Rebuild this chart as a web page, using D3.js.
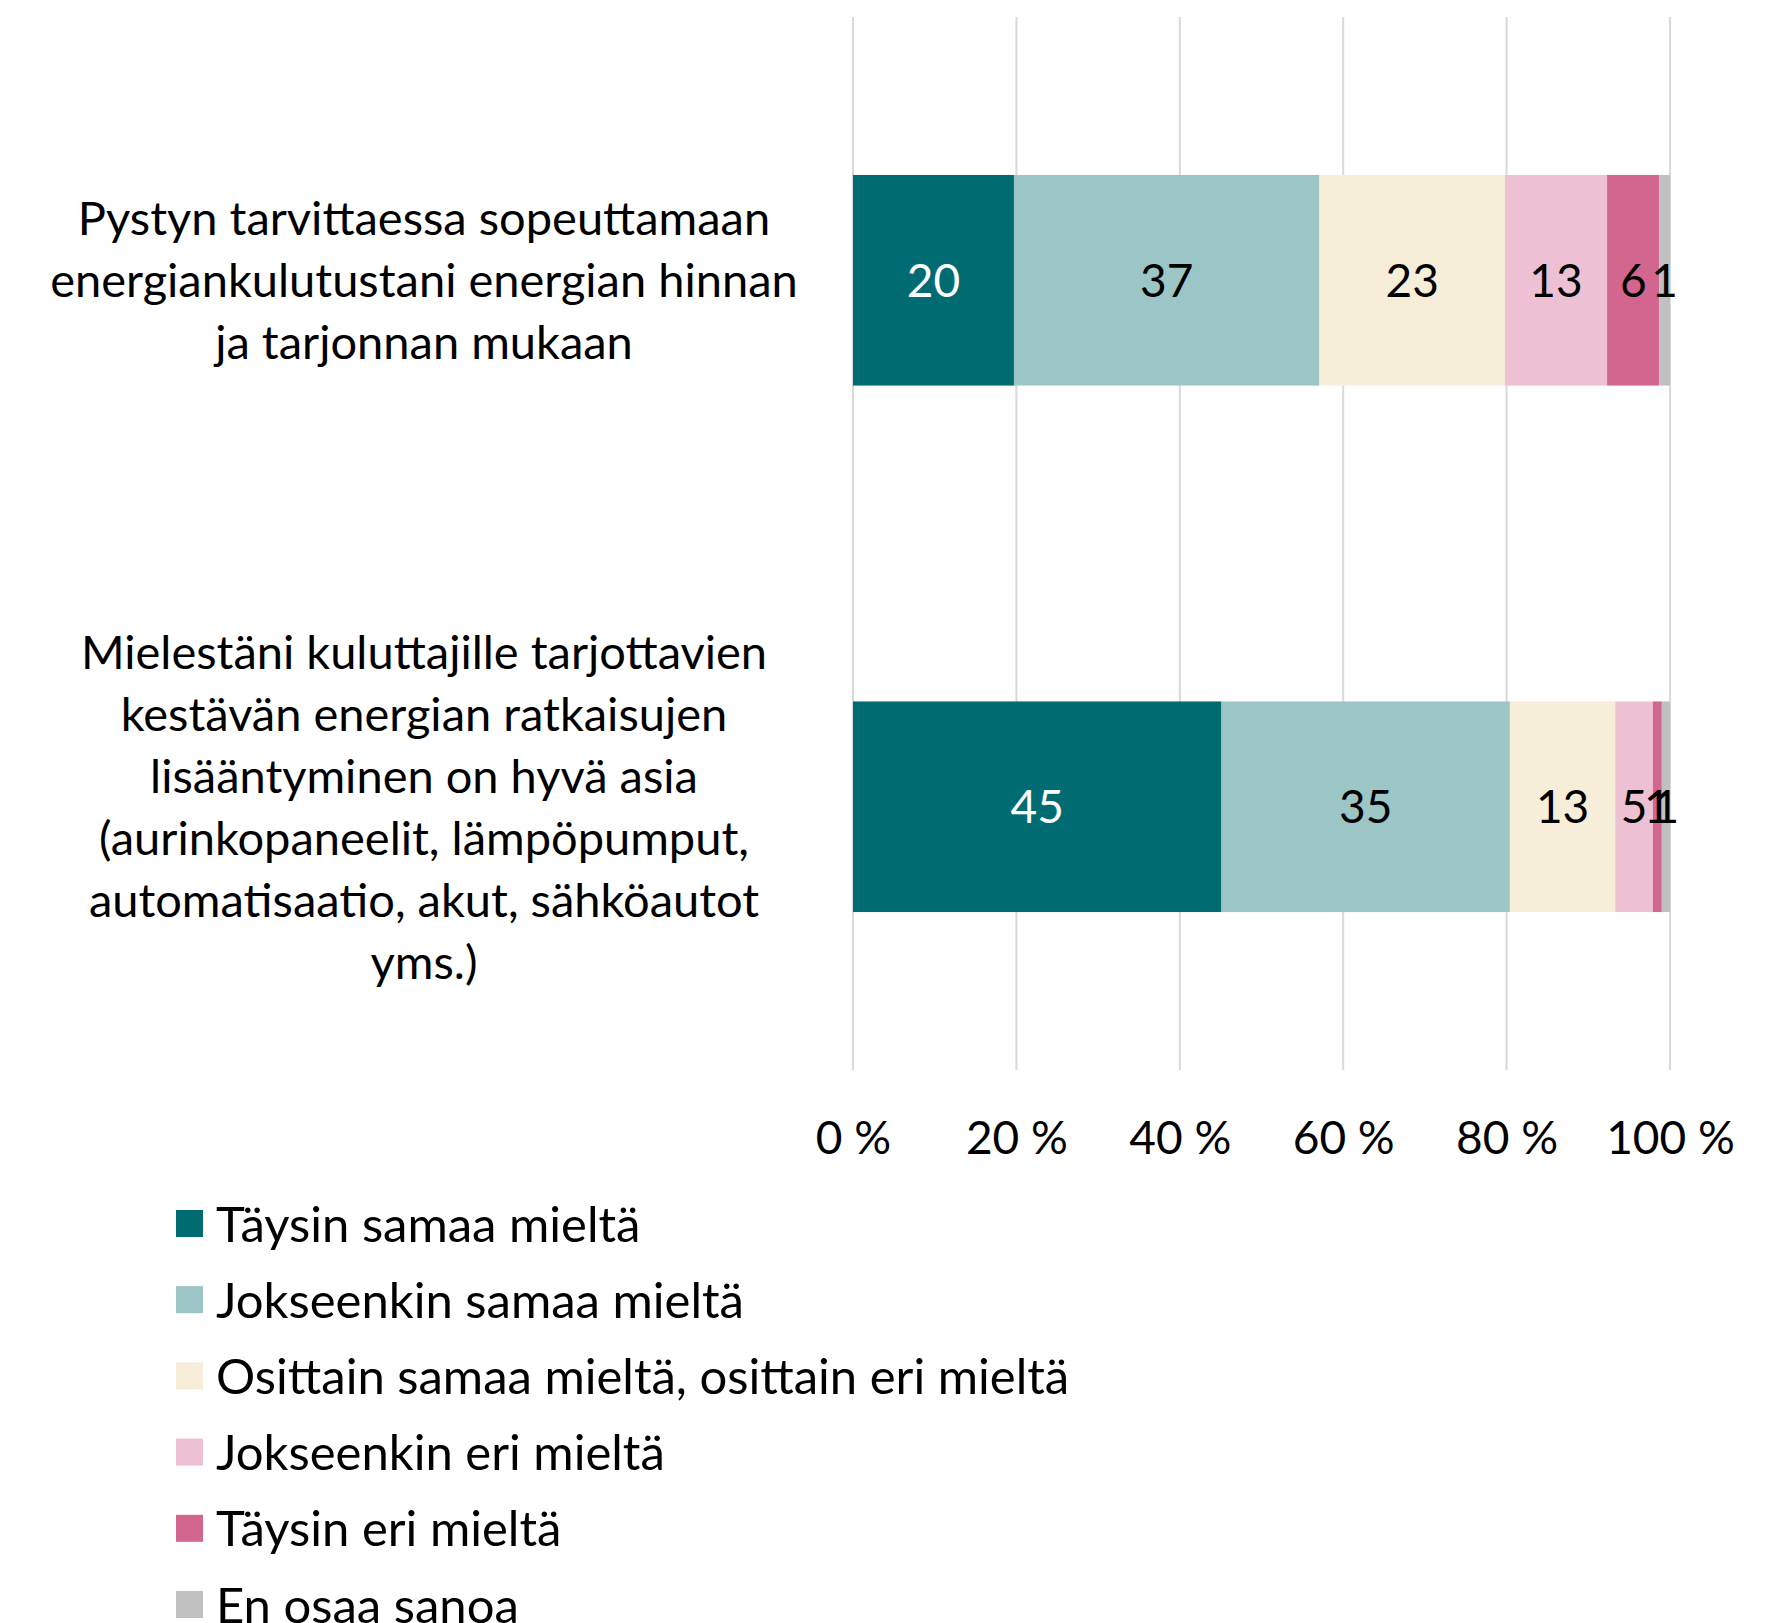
<!DOCTYPE html>
<html>
<head>
<meta charset="utf-8">
<script src="https://cdn.jsdelivr.net/npm/d3@7"></script>
<style>
  body { margin: 0; background: #fff; }
  svg text { font-family: Lato, "Open Sans", sans-serif; }
</style>
</head>
<body>
<div id="chart"></div>
<script>
////////////////////////////////////////////////
// data

var categories = [
    ["Pystyn tarvittaessa sopeuttamaan", "energiankulutustani energian hinnan", "ja tarjonnan mukaan"],
    ["Mielestäni kuluttajille tarjottavien", "kestävän energian ratkaisujen", "lisääntyminen on hyvä asia",
     "(aurinkopaneelit, lämpöpumput,", "automatisaatio, akut, sähköautot", "yms.)"]
];

var seriesNames = [
    "Täysin samaa mieltä",
    "Jokseenkin samaa mieltä",
    "Osittain samaa mieltä, osittain eri mieltä",
    "Jokseenkin eri mieltä",
    "Täysin eri mieltä",
    "En osaa sanoa"
];

// one array per series, values for [category 1, category 2]
var taysinSamaa    = [19.7, 45.1];
var jokseenkinSamaa = [37.4, 35.3];
var osittain        = [22.7, 12.9];
var jokseenkinEri   = [12.5, 4.6];
var taysinEri       = [6.4, 1.1];
var enOsaa          = [1.3, 1.0];

var tickValues = [0, 20, 40, 60, 80, 100];

var colors = ["#006c72", "#9cc5c6", "#f6eed8", "#edc1d3", "#d2668e", "#c0c0c0"];

////////////////////////////////////////////////
// layout

var W = 1784, H = 1623;
var plotLeft = 853, plotRight = 1670, plotTop = 17, plotBottom = 1070;

var svg = d3.select("#chart").append("svg")
    .attr("width", W)
    .attr("height", H);

var x = d3.scaleLinear().domain([0, 100]).range([plotLeft, plotRight]);
var y = d3.scaleBand().domain(d3.range(categories.length))
    .range([plotTop, plotBottom])
    .paddingInner(0.6)
    .paddingOuter(0.3);

var allSeries = [taysinSamaa, jokseenkinSamaa, osittain, jokseenkinEri, taysinEri, enOsaa];
var rows = categories.map(function(c, i){
    var row = {index: i};
    allSeries.forEach(function(s, j){ row["s" + j] = s[i]; });
    return row;
});
var keys = allSeries.map(function(s, j){ return "s" + j; });
var stacked = d3.stack().keys(keys)(rows);

////////////////////////////////////////////////
// gridlines

svg.append("g")
    .selectAll("line")
    .data(tickValues)
    .enter().append("line")
    .attr("x1", function(d){ return x(d); })
    .attr("x2", function(d){ return x(d); })
    .attr("y1", plotTop)
    .attr("y2", plotBottom)
    .attr("stroke", "#d9d9d9")
    .attr("stroke-width", 2);

////////////////////////////////////////////////
// bars

var layers = svg.append("g")
    .selectAll("g")
    .data(stacked)
    .enter().append("g")
    .attr("fill", function(d, i){ return colors[i]; });

layers.selectAll("rect")
    .data(function(d){ return d; })
    .enter().append("rect")
    .attr("x", function(d){ return x(d[0]); })
    .attr("width", function(d){ return x(d[1]) - x(d[0]); })
    .attr("y", function(d){ return y(d.data.index); })
    .attr("height", y.bandwidth());

layers.each(function(layer, li){
    d3.select(this).selectAll("text")
        .data(layer)
        .enter().append("text")
        .attr("x", function(d){ return (x(d[0]) + x(d[1])) / 2; })
        .attr("y", function(d){ return y(d.data.index) + y.bandwidth() / 2; })
        .attr("dy", "0.36em")
        .attr("text-anchor", "middle")
        .attr("font-size", 46)
        .attr("fill", li === 0 ? "#fff" : "#000")
        .text(function(d){ return Math.round(d[1] - d[0]); });
});

////////////////////////////////////////////////
// x axis (labels only)

var xAxis = d3.axisBottom(x)
    .tickValues(tickValues)
    .tickSize(0)
    .tickPadding(0)
    .tickFormat(function(d){ return d + " %"; });

var axisG = svg.append("g")
    .attr("transform", "translate(0," + 1121 + ")")
    .call(xAxis);
axisG.select(".domain").remove();
axisG.selectAll("text")
    .attr("font-size", 46)
    .attr("fill", "#000")
    .attr("font-family", "Lato, sans-serif");

////////////////////////////////////////////////
// category labels

var lineH = 62;
svg.append("g")
    .selectAll("text")
    .data(categories)
    .enter().append("text")
    .attr("text-anchor", "middle")
    .attr("font-size", 47)
    .attr("fill", "#000")
    .each(function(lines, i){
        var cy = y(i) + y.bandwidth() / 2;
        var start = cy - (lines.length - 1) * lineH / 2;
        d3.select(this).selectAll("tspan")
            .data(lines)
            .enter().append("tspan")
            .attr("x", 424)
            .attr("y", function(d, k){ return start + k * lineH; })
            .attr("dy", "0.36em")
            .text(function(d){ return d; });
    });

////////////////////////////////////////////////
// legend

var legend = svg.append("g")
    .selectAll("g")
    .data(seriesNames)
    .enter().append("g")
    .attr("transform", function(d, i){ return "translate(176," + (1224 + i * 76.2) + ")"; });

legend.append("rect")
    .attr("x", 0)
    .attr("y", -14)
    .attr("width", 27)
    .attr("height", 27)
    .attr("fill", function(d, i){ return colors[i]; });

legend.append("text")
    .attr("x", 40)
    .attr("y", 0)
    .attr("dy", "0.36em")
    .attr("font-size", 49)
    .attr("fill", "#000")
    .text(function(d){ return d; });
</script>
</body>
</html>
